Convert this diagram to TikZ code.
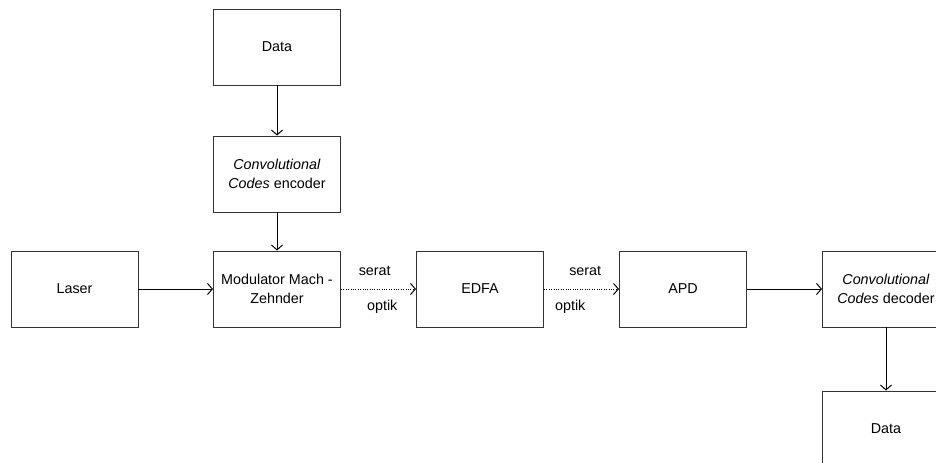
\documentclass[tikz,border=0pt]{standalone}
\usepackage{fontspec}
\setmainfont{Liberation Sans}
\usepackage{tikz}
\usetikzlibrary{arrows.meta}

\begin{document}
\begin{tikzpicture}[
            declare function={
                Row=-7.225;
                ColA=6.925;
                ColB=22.15;
            },
            >={Straight Barb[length=3.5pt, width=8pt]},
            block/.style={draw=black!80, line width=0.7pt, minimum width=3.175cm, minimum height=1.9cm, align=center, font=\fontsize{10.2pt}{13pt}\selectfont},
            link/.style={->, line width=0.7pt},
            fiber/.style={->, line width=0.7pt, densely dotted},
            lbl/.style={font=\fontsize{10.2pt}{13pt}\selectfont}
        ]
            \useasboundingbox (0, 0) rectangle (23.4, -11.575);
            
            \node[block] (datain) at (ColA, -1.175) {Data};
            \node[block] (encoder) at (ColA, -4.35) {\textit{Convolutional}\\\textit{Codes} encoder};
            
            \node[block] (laser) at (1.8625, Row) {Laser};
            \node[block] (mzm) at (ColA, Row) {Modulator Mach -\\Zehnder};
            \node[block] (edfa) at (12.0, Row) {EDFA};
            \node[block] (apd) at (17.075, Row) {APD};
            \node[block] (decoder) at (ColB, Row) {\textit{Convolutional}\\\textit{Codes} decoder};
            \node[block] (dataout) at (ColB, -10.725) {Data};
            
            \draw[link] (datain) -- (encoder);
            \draw[link] (encoder) -- (mzm);
            \draw[link] (laser) -- (mzm);
            \draw[fiber] (mzm) -- (edfa)
                node[lbl, pos=0.45, above=6pt] {serat}
                node[lbl, pos=0.55, below=4pt] {optik};
            \draw[fiber] (edfa) -- (apd)
                node[lbl, pos=0.55, above=6pt] {serat}
                node[lbl, pos=0.35, below=4pt] {optik};
            \draw[link] (apd) -- (decoder);
            \draw[link] (decoder) -- (dataout);
        \end{tikzpicture}
\end{document}
